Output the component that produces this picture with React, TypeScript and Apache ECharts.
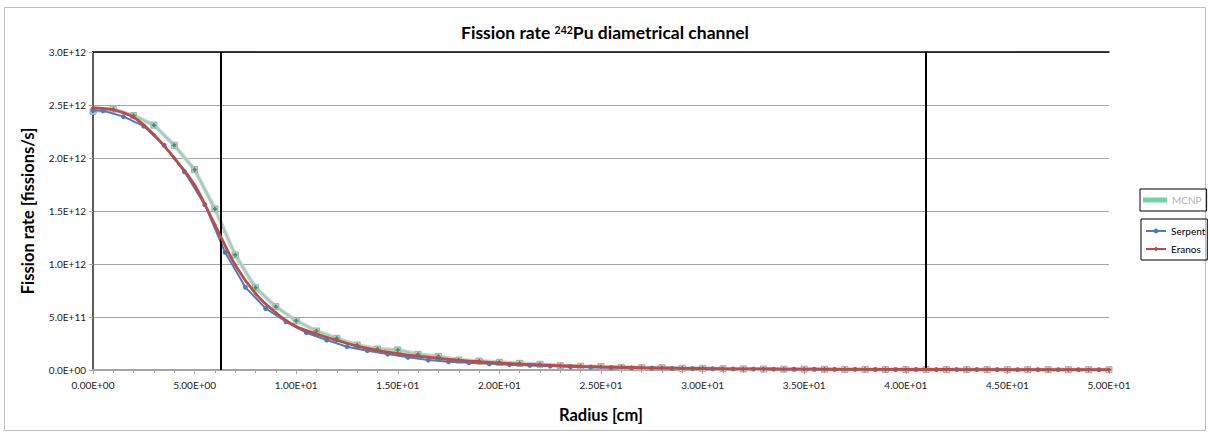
import React, { useEffect, useRef } from "react";
import * as echarts from "echarts";

const mcnpRadius = [0, 1, 2, 3, 4, 5, 6, 7, 8, 9, 10, 11, 12, 13, 14, 15, 16, 17, 18, 19, 20, 21, 22, 23, 24, 25, 26, 27, 28, 29, 30, 31, 32, 33, 34, 35, 36, 37, 38, 39, 40, 41, 42, 43, 44, 45, 46, 47, 48, 49, 50];
const mcnpRate = [2.44e12, 2.46e12, 2.40e12, 2.31e12, 2.12e12, 1.89e12, 1.52e12, 1.085e12, 0.776e12, 0.597e12, 0.465e12, 0.368e12, 0.299e12, 0.236e12, 0.198e12, 0.189e12, 0.148e12, 0.128e12, 0.094e12, 0.085e12, 0.072e12, 0.063e12, 0.054e12, 0.041e12, 0.035e12, 0.031e12, 0.025e12, 0.022e12, 0.022e12, 0.016e12, 0.016e12, 0.012e12, 0.010e12, 0.009e12, 0.008e12, 0.008e12, 0.007e12, 0.006e12, 0.006e12, 0.005e12, 0.005e12, 0.004e12, 0.004e12, 0.004e12, 0.004e12, 0.003e12, 0.003e12, 0.003e12, 0.003e12, 0.003e12, 0.003e12];

const serpentRadius = [0, 0.5, 1.5, 2.5, 3.5, 4.5, 5.5, 6.5, 7.5, 8.5, 9.5, 10.5, 11.5, 12.5, 13.5, 14.5, 15.5, 16.5, 17.5, 18.5, 19.5, 20.5, 21.5, 22.5, 23.5, 24.5, 25.5, 26.5, 27.5, 28.5, 29.5, 30.5, 31.5, 32.5, 33.5, 34.5, 35.5, 36.5, 37.5, 38.5, 39.5, 40.5, 41.5, 42.5, 43.5, 44.5, 45.5, 46.5, 47.5, 48.5, 49.5];
const serpentRate = [2.45e12, 2.445e12, 2.39e12, 2.30e12, 2.12e12, 1.87e12, 1.56e12, 1.11e12, 0.78e12, 0.58e12, 0.455e12, 0.352e12, 0.283e12, 0.22e12, 0.182e12, 0.151e12, 0.12e12, 0.094e12, 0.078e12, 0.068e12, 0.058e12, 0.05e12, 0.043e12, 0.037e12, 0.031e12, 0.027e12, 0.023e12, 0.02e12, 0.017e12, 0.015e12, 0.013e12, 0.011e12, 0.010e12, 0.009e12, 0.008e12, 0.007e12, 0.007e12, 0.006e12, 0.006e12, 0.005e12, 0.005e12, 0.005e12, 0.004e12, 0.004e12, 0.004e12, 0.004e12, 0.003e12, 0.003e12, 0.003e12, 0.003e12, 0.003e12];

const eranosRadius = [0, 1, 2, 3, 4, 5, 6, 7, 8, 9, 10, 11, 12, 13, 14, 15, 16, 17, 18, 19, 20, 21, 22, 23, 24, 25, 26, 27, 28, 29, 30, 31, 32, 33, 34, 35, 36, 37, 38, 39, 40, 41, 42, 43, 44, 45, 46, 47, 48, 49, 50];
const eranosRate = [2.475e12, 2.455e12, 2.385e12, 2.22e12, 2.0e12, 1.745e12, 1.37e12, 0.99e12, 0.72e12, 0.54e12, 0.41e12, 0.34e12, 0.28e12, 0.225e12, 0.185e12, 0.155e12, 0.13e12, 0.11e12, 0.092e12, 0.078e12, 0.066e12, 0.056e12, 0.048e12, 0.041e12, 0.035e12, 0.03e12, 0.026e12, 0.022e12, 0.019e12, 0.016e12, 0.014e12, 0.012e12, 0.011e12, 0.010e12, 0.009e12, 0.008e12, 0.007e12, 0.0065e12, 0.006e12, 0.0055e12, 0.005e12, 0.0048e12, 0.0045e12, 0.0042e12, 0.004e12, 0.0038e12, 0.0036e12, 0.0034e12, 0.0032e12, 0.003e12, 0.003e12];

const boundaryRadius = [6.3, 41];

const FONT = "Lato";

function sci(v: number, d: number): string {
  if (v === 0) return (0).toFixed(d) + "E+00";
  let e = Math.floor(Math.log10(Math.abs(v)) + 1e-9);
  let ms = (v / Math.pow(10, e)).toFixed(d);
  if (parseFloat(ms) >= 10) {
    e += 1;
    ms = (v / Math.pow(10, e)).toFixed(d);
  }
  const sign = e < 0 ? "-" : "+";
  return ms + "E" + sign + String(Math.abs(e)).padStart(2, "0");
}

function pairs(xs: number[], ys: number[]) {
  return xs.map((x, i) => [x, ys[i]]);
}

export default function App() {
  const ref = useRef<HTMLDivElement>(null);
  useEffect(() => {
    document.body.style.margin = "0";
    if (!ref.current) return;
    const chart = echarts.init(ref.current, null, { renderer: "svg" });
    const mcnpData = pairs(mcnpRadius, mcnpRate);
    chart.setOption({
      animation: false,
      backgroundColor: "#ffffff",
      textStyle: { fontFamily: FONT },
      graphic: [
        {
          type: "rect",
          shape: { x: 4.5, y: 7.5, width: 1201, height: 423 },
          style: { fill: "none", stroke: "#bfbfbf", lineWidth: 1 },
          silent: true,
        },
      ],
      title: {
        text: "{a|Fission rate }{s|242}{a|Pu diametrical channel}",
        left: "center",
        top: 16,
        textStyle: {
          rich: {
            a: { fontFamily: FONT, fontWeight: "bold", fontSize: 17.5, color: "#000", lineHeight: 20, verticalAlign: "bottom" },
            s: { fontFamily: FONT, fontWeight: "bold", fontSize: 10.5, color: "#000", lineHeight: 20, verticalAlign: "top", padding: [3, 0, 0, 0] },
          },
        },
      },
      legend: [
        {
          data: [{ name: "MCNP", icon: "rect", itemStyle: { color: "#70d4a8" } }],
          left: 1140,
          top: 189,
          itemWidth: 24,
          itemHeight: 5,
          padding: [6, 5, 6, 3],
          borderColor: "#000",
          borderWidth: 1,
          selectedMode: false,
          textStyle: { fontFamily: FONT, fontSize: 10, color: "#b4b4b4" },
        },
        {
          data: ["Serpent", "Eranos"],
          orient: "vertical",
          left: 1141,
          top: 219,
          itemWidth: 20,
          itemHeight: 6,
          itemGap: 8,
          padding: [7, 2, 6, 4],
          borderColor: "#000",
          borderWidth: 1,
          selectedMode: false,
          textStyle: { fontFamily: FONT, fontSize: 10, color: "#000" },
        },
      ],
      grid: { left: 93, right: 101, top: 52, bottom: 64, containLabel: false },
      xAxis: [
        {
          type: "value",
          min: 0,
          max: 50,
          interval: 5,
          name: "Radius [cm]",
          nameLocation: "middle",
          nameGap: 36,
          nameTextStyle: { fontFamily: FONT, fontWeight: "bold", fontSize: 16.5, color: "#000" },
          axisLine: { show: true, onZero: false, lineStyle: { color: "#a6a6a6", width: 2 } },
          axisTick: { show: true, length: 4, lineStyle: { color: "#a6a6a6" } },
          minorTick: { show: true, splitNumber: 5, length: 3, lineStyle: { color: "#a6a6a6" } },
          splitLine: { show: false },
          axisLabel: {
            fontFamily: FONT,
            fontSize: 10,
            color: "#222",
            margin: 10,
            formatter: (v: number) => sci(v, 2),
          },
        },
        {
          type: "value",
          position: "top",
          min: 0,
          max: 50,
          interval: 5,
          axisLine: { show: true, onZero: false, lineStyle: { color: "#000", width: 1.5 } },
          axisTick: { show: false },
          axisLabel: { show: false },
          splitLine: { show: false },
        },
      ],
      yAxis: [
        {
          type: "value",
          min: 0,
          max: 3e12,
          interval: 5e11,
          name: "Fission rate [fissions/s]",
          nameLocation: "middle",
          nameGap: 57,
          nameTextStyle: { fontFamily: FONT, fontWeight: "bold", fontSize: 16.5, color: "#000" },
          axisLine: { show: true, lineStyle: { color: "#a6a6a6", width: 2 } },
          axisTick: { show: true, length: 4, lineStyle: { color: "#a6a6a6" } },
          splitLine: { show: true, lineStyle: { color: "#a6a6a6", width: 1.2 } },
          axisLabel: {
            fontFamily: FONT,
            fontSize: 10,
            color: "#222",
            margin: 7,
            formatter: (v: number) => sci(v, 1),
          },
        },
        {
          type: "value",
          position: "right",
          min: 0,
          max: 3e12,
          interval: 5e11,
          axisLine: { show: true, lineStyle: { color: "#444", width: 1.5 } },
          axisTick: { show: false },
          axisLabel: { show: false },
          splitLine: { show: false },
        },
      ],
      series: [
        {
          name: "MCNP band",
          type: "line",
          data: mcnpData,
          symbol: "rect",
          symbolSize: 6,
          itemStyle: { color: "#dccbd0", borderColor: "#a8a8a8", borderWidth: 1 },
          lineStyle: { color: "#cfcfcf", width: 4 },
          z: 2,
          silent: true,
          markLine: {
            silent: true,
            symbol: "none",
            label: { show: false },
            lineStyle: { color: "#000", width: 2, type: "solid" },
            data: boundaryRadius.map((r) => ({ xAxis: r })),
          },
        },
        {
          name: "MCNP",
          type: "line",
          data: mcnpData,
          symbol: "diamond",
          symbolSize: 5,
          itemStyle: { color: "#2f9e72" },
          lineStyle: { color: "#7fd8b0", width: 1.2 },
          z: 3,
        },
        {
          name: "Serpent",
          type: "line",
          data: pairs(serpentRadius, serpentRate),
          symbol: "circle",
          symbolSize: 5,
          itemStyle: { color: "#4a7ebb" },
          lineStyle: { color: "#4a7ebb", width: 2 },
          z: 4,
        },
        {
          name: "Eranos",
          type: "line",
          data: pairs(eranosRadius, eranosRate),
          smooth: 0.3,
          symbol: "diamond",
          symbolSize: 4,
          itemStyle: { color: "#be4b48" },
          lineStyle: { color: "#be4b48", width: 2.8 },
          z: 5,
        },
      ],
    });
    return () => chart.dispose();
  }, []);
  return <div ref={ref} style={{ width: 1210, height: 434 }} />;
}
